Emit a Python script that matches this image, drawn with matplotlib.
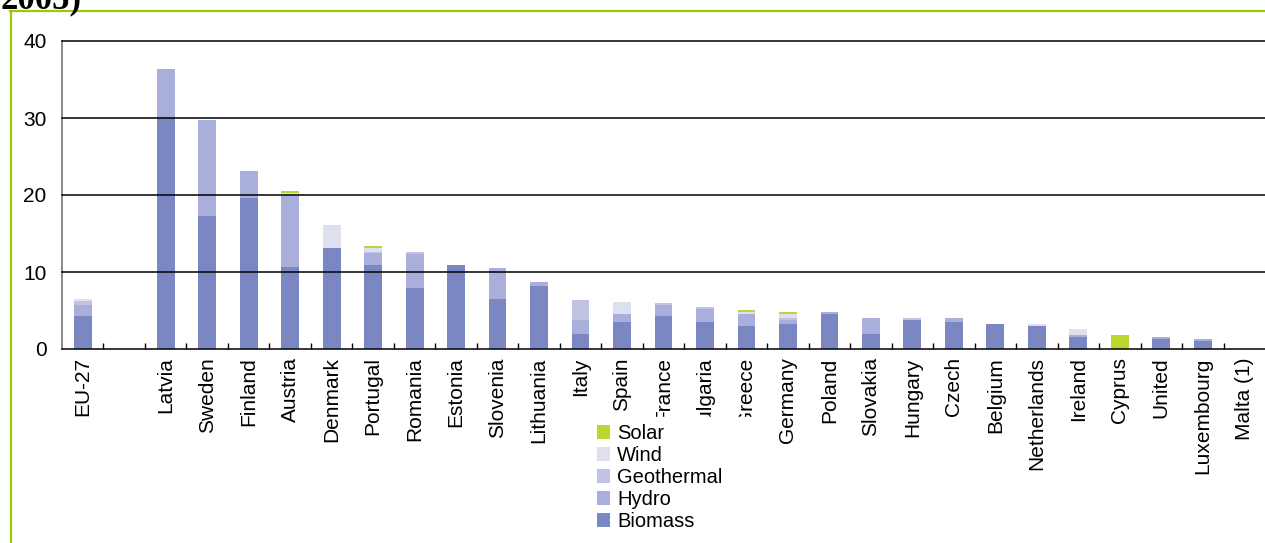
import numpy as np
import matplotlib.pyplot as plt
from matplotlib.lines import Line2D

plt.rcParams['font.family'] = ['Liberation Sans', 'DejaVu Sans']

# Share of renewables in gross inland energy consumption by source (%)
countries = ["EU-27", "", "Latvia", "Sweden", "Finland", "Austria", "Denmark",
             "Portugal", "Romania", "Estonia", "Slovenia", "Lithuania", "Italy",
             "Spain", "France", "Bulgaria", "Greece", "Germany", "Poland",
             "Slovakia", "Hungary", "Czech", "Belgium", "Netherlands", "Ireland",
             "Cyprus", "United", "Luxembourg", "Malta (1)"]

biomass = [4.3, 0, 30.1, 17.3, 19.6, 10.6, 13.1, 10.9, 7.9, 10.9, 6.5, 8.2, 1.95,
           3.5, 4.3, 3.5, 3.0, 3.25, 4.55, 1.95, 3.75, 3.5, 3.25, 3.0, 1.55,
           0, 1.3, 1.05, 0]
hydro = [1.4, 0, 6.3, 12.4, 3.5, 9.3, 0, 1.55, 4.5, 0, 4.0, 0.5, 1.85,
         1.0, 1.4, 1.7, 1.55, 0.55, 0.25, 2.05, 0, 0.5, 0, 0, 0.3,
         0, 0.25, 0.25, 0]
geothermal = [0.5, 0, 0, 0, 0, 0, 0, 0.15, 0.25, 0, 0, 0, 2.6,
              0, 0.3, 0.25, 0, 0.2, 0, 0, 0.25, 0, 0, 0, 0,
              0, 0, 0, 0]
wind = [0.3, 0, 0, 0, 0, 0.35, 3.0, 0.5, 0, 0, 0, 0, 0,
        1.6, 0, 0, 0.25, 0.55, 0, 0, 0, 0, 0, 0.25, 0.8,
        0, 0, 0, 0]
solar = [0.05, 0, 0, 0, 0, 0.3, 0, 0.3, 0, 0, 0, 0, 0,
         0, 0, 0, 0.25, 0.25, 0, 0, 0, 0, 0, 0, 0,
         1.8, 0, 0, 0]

series = [("Biomass", biomass, "#7b87c2"),
          ("Hydro", hydro, "#a9aedb"),
          ("Geothermal", geothermal, "#c0c4e2"),
          ("Wind", wind, "#dee0ef"),
          ("Solar", solar, "#bcd631")]

fig = plt.figure(figsize=(12.65, 5.43), dpi=100)
ax = fig.add_axes([62 / 1265, 1 - 349 / 543, 1 - 62 / 1265, (349 - 41) / 543])

x = np.arange(len(countries))
bottom = np.zeros(len(countries))
handles = []
for name, vals, color in series:
    vals = np.array(vals)
    b = ax.bar(x, vals, 0.43, bottom=bottom, color=color, label=name, zorder=2)
    bottom += vals
    handles.append(b)

ax.set_xlim(-0.5, len(countries) - 0.5)
ax.set_ylim(0, 40)

# horizontal gridlines
for yv in [10, 20, 30, 40]:
    ax.axhline(yv, color="black", lw=1.1, zorder=3, clip_on=False)

ax.set_yticks([0, 10, 20, 30, 40])
ax.tick_params(axis="y", length=0, pad=11, labelsize=15)

# ticks between categories, labels at the centres
ax.set_xticks(np.arange(0.5, len(countries) - 1, 1))
ax.set_xticklabels([])
ax.set_xticks(x, minor=True)
ax.set_xticklabels(countries, minor=True, rotation=90, fontsize=15)
ax.tick_params(axis="x", which="major", direction="in", length=4, width=1, color="black")
ax.tick_params(axis="x", which="minor", length=0, pad=6)

for s in ["top", "right"]:
    ax.spines[s].set_visible(False)
ax.spines["left"].set_color("#808080")
ax.spines["left"].set_linewidth(1.3)
ax.spines["bottom"].set_color("black")
ax.spines["bottom"].set_linewidth(1.1)

# legend box also hides the start of the labels it sits on
leg_top = 1 - 417 / 543
leg = ax.legend(handles[::-1], [h.get_label() for h in handles[::-1]],
                loc="upper left", mode="expand",
                bbox_to_anchor=(590 / 1265, leg_top - 0.3, 175 / 1265, 0.3),
                bbox_transform=fig.transFigure, borderaxespad=0,
                fontsize=14.5, frameon=True, fancybox=False, framealpha=1,
                edgecolor="white", facecolor="white",
                handlelength=0.65, handleheight=0.65, handletextpad=0.35,
                labelspacing=0.15, borderpad=0.35)
leg.set_zorder(5)

# green frame and the cut-off heading above it
fig.add_artist(Line2D([10.5 / 1265, 10.5 / 1265], [1 - 11 / 543, 0],
                      transform=fig.transFigure, color="#99cc00", lw=1.6))
fig.add_artist(Line2D([10 / 1265, 1], [1 - 11 / 543, 1 - 11 / 543],
                      transform=fig.transFigure, color="#99cc00", lw=1.6))
fig.text(0, 1 - 8 / 543, "2005)", fontsize=25, fontweight="bold",
         family="Liberation Serif", va="baseline", ha="left")

fig.savefig("out.png", dpi=100)
